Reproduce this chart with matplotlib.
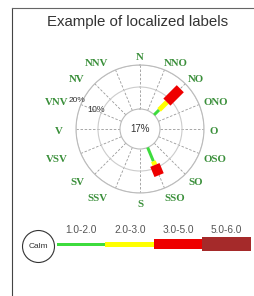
import numpy as np
import matplotlib
matplotlib.use("Agg")
import matplotlib.pyplot as plt
from matplotlib.lines import Line2D
from matplotlib.transforms import offset_copy

# wind directions (swedish labels), clockwise from north
directions = ["N", "NNO", "NO", "ONO", "O", "OSO", "SO", "SSO",
              "S", "SSV", "SV", "VSV", "V", "VNV", "NV", "NNV"]
speed_bins = ["1.0-2.0", "2.0-3.0", "3.0-5.0", "5.0-6.0"]
calm_pct = 17

# frequency (%) per direction for each speed bin
freq_1_2 = [0, 0, 3.2, 0, 0, 0, 0, 6.8, 0, 0, 0, 0, 0, 0, 0, 0]
freq_2_3 = [0, 0, 5.0, 0, 0, 0, 0, 1.8, 0, 0, 0, 0, 0, 0, 0, 0]
freq_3_5 = [0, 0, 8.6, 0, 0, 0, 0, 5.0, 0, 0, 0, 0, 0, 0, 0, 0]
freq_5_6 = [0, 0, 0, 0, 0, 0, 0, 0, 0, 0, 0, 0, 0, 0, 0, 0]
ring_values = [10, 20]

colors = ["#3ddc3d", "#ffff00", "#ee0000", "#a52a2a"]
widths = [3, 5, 10, 14]   # px

W, H = 255, 296
fig = plt.figure(figsize=(W / 100, H / 100), dpi=100)

# frame
fig.add_artist(Line2D([12 / W, 12 / W], [0, 1 - 8 / H], transform=fig.transFigure,
                      color="#444444", lw=0.8))
fig.add_artist(Line2D([12 / W, 1], [1 - 8 / H, 1 - 8 / H], transform=fig.transFigure,
                      color="#666666", lw=0.8))

fig.text(138 / W, 1 - 22 / H, "Example of localized labels", ha="center", va="center",
         fontsize=10.8, family="Liberation Sans", color="#333333")

# rose
cx, cy, R = 140, 129, 64
ax = fig.add_axes([(cx - R) / W, (H - cy - R) / H, 2 * R / W, 2 * R / H], projection="polar")
ax.set_theta_zero_location("N")
ax.set_theta_direction(-1)
rmax = 20
ax.set_ylim(0, rmax)
ax.set_rorigin(-rmax * 20 / 44)
ax.set_facecolor("white")

theta = np.deg2rad(np.arange(16) * 22.5)
ax.set_xticks(theta)
ax.set_xticklabels([""] * 16)
ax.set_yticks(ring_values)
ax.set_yticklabels([])
ax.xaxis.grid(True, color="#999999", lw=0.6, linestyle=(0, (3, 2)))
ax.yaxis.grid(True, color="#cccccc", lw=0.8)
ax.spines["polar"].set_color("#bbbbbb")
ax.spines["inner"].set_color("#bbbbbb")
ax.tick_params(length=0)

series = [freq_1_2, freq_2_3, freq_3_5, freq_5_6]
bottom = np.zeros(16)
for vals, c, w in zip(series, colors, widths):
    vals = np.array(vals, dtype=float)
    for i in range(16):
        if vals[i] > 0:
            ax.plot([theta[i], theta[i]], [bottom[i], bottom[i] + vals[i]], color=c,
                    lw=w * 0.72, solid_capstyle="butt", clip_on=False, zorder=3)
    bottom += vals

# direction labels, anchored on the side facing the rose
side_trans = offset_copy(ax.transData, fig=fig, x=-4, y=-2, units="dots")
mid_trans = offset_copy(ax.transData, fig=fig, x=0, y=-2, units="dots")
for th, lab in zip(theta, directions):
    s = np.sin(th)
    if abs(s) < 0.01:
        ha, tr = "center", mid_trans
    else:
        ha, tr = ("left" if s > 0 else "right"), side_trans
    ax.text(th, 24.3, lab, ha=ha, va="center", fontsize=7.8, fontweight="bold",
            family="Liberation Serif", color="#3a8f3a", clip_on=False, transform=tr)

lab_th = np.deg2rad(294.5)
ax.text(lab_th, 12.7, "10%", ha="center", va="center", fontsize=6.3,
        family="Liberation Sans", color="#333333", clip_on=False)
ax.text(lab_th, 22.6, "20%", ha="center", va="center", fontsize=6.0,
        family="Liberation Sans", color="#333333", clip_on=False)
ax.text(0.5, 0.5, "%d%%" % calm_pct, transform=ax.transAxes, ha="center", va="center",
        fontsize=7, family="Liberation Sans", color="#333333")

# legend bar
lx0, lw_px, ly_c = 57, 194, 244
lax = fig.add_axes([lx0 / W, (H - ly_c - 20) / H, lw_px / W, 40 / H])
lax.set_xlim(0, 4)
lax.set_ylim(-20, 20)
lax.axis("off")
for i, (lab, c, w) in enumerate(zip(speed_bins, colors, widths)):
    lax.bar(i + 0.5, w, bottom=-w / 2, width=1, color=c, edgecolor="none")
    lax.text(i + 0.5, 14, lab, ha="center", va="center", fontsize=7.3,
             family="Liberation Sans", color="#555555")
lax.scatter([-0.39], [-2], s=530, facecolor="white", edgecolor="#333333", lw=0.8,
            clip_on=False, zorder=3)
lax.text(-0.39, -2, "Calm", ha="center", va="center", fontsize=6,
         family="Liberation Sans", color="#333333", zorder=4)

fig.savefig("out.png", dpi=100)
